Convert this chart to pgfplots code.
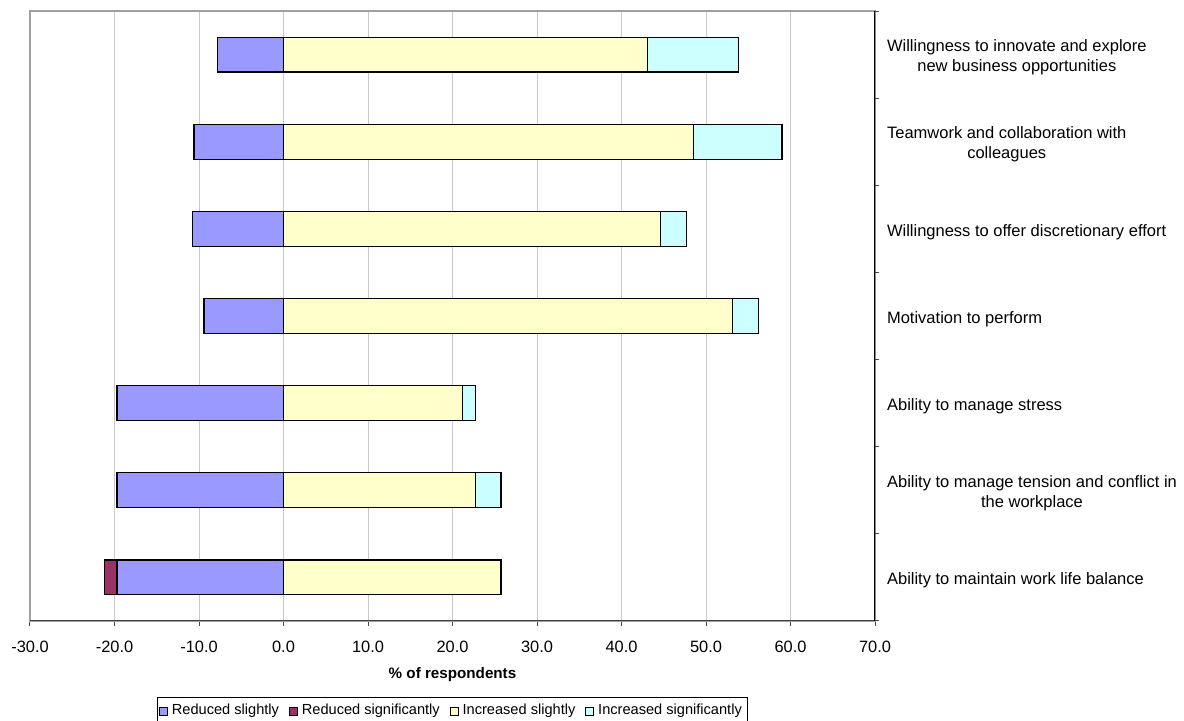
\documentclass[border=0pt]{standalone}
\usepackage{pgfplots}
\usepackage{pgfplotstable}
\pgfplotsset{compat=1.18}
\usepackage{fontspec}
\setmainfont{Liberation Sans}

\definecolor{redslight}{HTML}{9999FF}
\definecolor{redsig}{HTML}{993366}
\definecolor{incslight}{HTML}{FFFFCC}
\definecolor{incsig}{HTML}{CCFFFF}
\definecolor{gridgray}{HTML}{C8C8C8}
\definecolor{framegray}{HTML}{A0A0A0}

% row 1 = bottom category
\pgfplotstableread{
y  rs     rsig
1  -19.7  -1.5
2  -19.7  0
3  -19.7  0
4  -9.4   0
5  -10.8  0
6  -10.6  0
7  -7.8   0
}\reduced
\pgfplotstableread{
y  is     isig
1  25.75  0
2  22.7   3.05
3  21.2   1.5
4  53.1   3.1
5  44.6   3.1
6  48.5   10.5
7  43.1   10.7
}\increased

\pgfplotsset{
  barframe/.style={
    at={(0,0)}, anchor=south west,
    scale only axis, width=422.5pt, height=305pt,
    xbar stacked, bar width=0.4,
    xmin=-30, xmax=70, ymin=0.5, ymax=7.5,
    every axis plot/.append style={draw=black, line width=0.6pt},
  },
}

\begin{document}
\begin{tikzpicture}
% reduced responses (negative side) together with all axis decoration
\begin{axis}[
  barframe,
  xtick={-30,-20,...,70},
  xticklabel={\pgfmathprintnumber[fixed,fixed zerofill,precision=1]{\tick}},
  /pgf/number format/assume math mode=true,
  xmajorgrids, major grid style={gridgray, line width=0.5pt},
  x tick label style={font=\fontsize{8.2}{10}\selectfont, yshift=-4pt},
  xtick pos=bottom, tick align=outside,
  major tick length=2.5pt,
  every tick/.style={black!70, line width=0.5pt},
  ytick={1,...,7},
  yticklabels={
    {Ability to maintain work life balance},
    {Ability to manage tension and conflict in\\the workplace},
    {Ability to manage stress},
    {Motivation to perform},
    {Willingness to offer discretionary effort},
    {Teamwork and collaboration with\\colleagues},
    {Willingness to innovate and explore\\new business opportunities}},
  ytick pos=right, yticklabel pos=right,
  ytick style={draw=none},
  yticklabel style={font=\fontsize{8.25}{10}\selectfont, align=center, anchor=west, xshift=0pt, yshift=-1.5pt},
  extra y ticks={0.5,1.5,...,7.5},
  extra y tick labels={},
  extra y tick style={ytick style={draw=black!70}, major tick length=2pt, grid=none},
  axis line style={framegray, line width=0.6pt},
  xlabel={\textbf{\% of respondents}},
  xlabel style={font=\fontsize{7.6}{9}\selectfont, at={(axis description cs:0.5,0)}, anchor=center, yshift=-27pt},
  legend columns=-1,
  legend style={at={(axis description cs:0.5,0)}, anchor=center, yshift=-45pt,
    draw=black, line width=0.5pt, font=\fontsize{7.3}{9}\selectfont,
    inner xsep=1pt, inner ysep=1.5pt,
    /tikz/every even column/.style={column sep=3pt},
    /tikz/every odd column/.style={column sep=0pt}},
  legend image code/.code={\draw[#1, draw=black, line width=0.4pt] (0pt,-2pt) rectangle (4pt,2pt);},
]
\addplot[fill=redslight] table[x=rs, y=y] {\reduced};
\addlegendentry{Reduced slightly}
\addplot[fill=redsig] table[x=rsig, y=y] {\reduced};
\addlegendentry{Reduced significantly}
\addlegendimage{fill=incslight}
\addlegendentry{Increased slightly}
\addlegendimage{fill=incsig}
\addlegendentry{Increased significantly}
\draw[black, line width=0.6pt] (rel axis cs:1,0) -- (rel axis cs:1,1);
\draw[black!75, line width=0.8pt] (rel axis cs:0,0) -- (rel axis cs:1,0);
\end{axis}
% increased responses (positive side), stacked from zero
\begin{axis}[barframe, hide axis]
\addplot[fill=incslight] table[x=is, y=y] {\increased};
\addplot[fill=incsig] table[x=isig, y=y] {\increased};
\end{axis}
\pgfresetboundingbox
\path[use as bounding box] (-15pt,-50pt) rectangle (577pt,310.5pt);
\end{tikzpicture}
\end{document}
